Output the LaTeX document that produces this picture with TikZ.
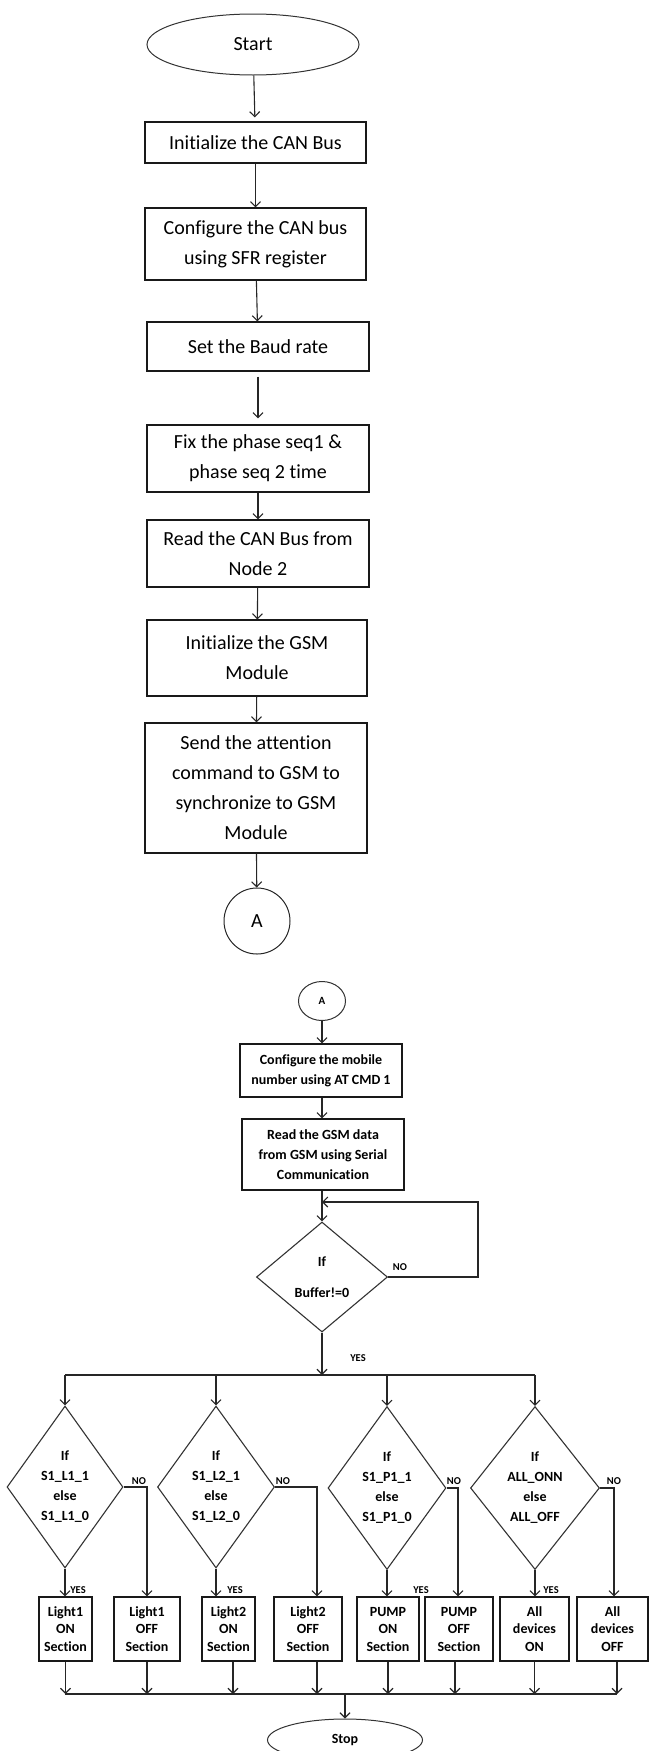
\documentclass[tikz,border=0pt]{standalone}
\usepackage{fontspec}
\setmainfont[RawFeature={-liga;-calt;-dlig;-clig}]{Carlito}
\usetikzlibrary{shapes.geometric,arrows.meta}
\tikzset{
 ln/.style={line width=1.1pt,draw=black!85},
 arr/.style={ln,-{Straight Barb[length=5pt,width=10pt]}},
 bigbox/.style={draw=black!90,line width=1.2pt,rectangle,inner sep=0pt,align=center,font=\fontsize{20}{30}\selectfont},
 midbox/.style={draw=black!90,line width=1.2pt,rectangle,inner sep=0pt,align=center,font=\bfseries\fontsize{14}{20}\selectfont},
 rowbox/.style={draw=black!90,line width=1.2pt,rectangle,inner sep=0pt,align=center,minimum height=64pt,font=\bfseries\fontsize{14}{17.5}\selectfont},
 dia/.style={draw=black!80,line width=1.1pt,diamond,inner sep=0pt},
 dtext/.style={align=center,font=\bfseries\fontsize{14}{20}\selectfont},
 lab/.style={font=\bfseries\fontsize{10.5}{12}\selectfont,inner sep=0pt},
 term/.style={draw=black!80,line width=1pt,ellipse,inner sep=0pt},
}
\begin{document}
\begin{tikzpicture}[x=1pt,y=-1pt]
\useasboundingbox (0,0) rectangle (649,1751);
% ---------- upper chart ----------
\node[term,minimum width=212pt,minimum height=61pt,font=\fontsize{20}{24}\selectfont] (start) at (253,44.5) {Start};
\node[bigbox,minimum width=221pt,minimum height=41pt] (b1) at (255.5,142.5) {Initialize the CAN Bus};
\node[bigbox,minimum width=221pt,minimum height=72pt] (b2) at (255.5,244) {Configure the CAN bus\\using SFR register};
\node[bigbox,minimum width=222pt,minimum height=49pt] (b3) at (258,346.5) {Set the Baud rate};
\node[bigbox,minimum width=222pt,minimum height=67pt] (b4) at (258,458.5) {Fix the phase seq1 \&\\phase seq 2 time};
\node[bigbox,minimum width=222pt,minimum height=67pt] (b5) at (258,553.5) {Read the CAN Bus from\\Node 2};
\node[bigbox,minimum width=220pt,minimum height=76pt] (b6) at (257,658) {Initialize the GSM\\Module};
\node[bigbox,minimum width=222pt,minimum height=130pt] (b7) at (256,788) {Send the attention\\command to GSM to\\synchronize to GSM\\Module};
\node[draw=black!85,line width=1pt,circle,inner sep=0pt,minimum size=66pt,font=\fontsize{20}{24}\selectfont] (cA) at (257,921) {A};

\draw[arr,shorten >=4pt] (start) -- (b1);
\draw[arr] (b1) -- (b2);
\draw[arr] (b2) -- (b3);
\draw[arr,shorten <=5pt,shorten >=6pt] (b3) -- (b4);
\draw[arr] (b4) -- (b5);
\draw[arr] (b5) -- (b6);
\draw[arr] (b6) -- (b7);
\draw[arr] (b7) -- (cA);

% ---------- lower chart ----------
\node[term,minimum width=47pt,minimum height=39pt,font=\bfseries\fontsize{11}{13}\selectfont] (cA2) at (322,1001) {A};
\node[midbox,minimum width=162pt,minimum height=53pt] (m1) at (321,1070.5) {Configure the mobile\\number using AT CMD 1};
\node[midbox,minimum width=162pt,minimum height=71pt] (m2) at (323,1154.5) {Read the GSM data\\from GSM using Serial\\Communication};
\node[dia,minimum width=131pt,minimum height=110pt,label={[dtext]center:{If\\[11pt]Buffer!=0}}] (d0) at (322,1277) {};

\draw[arr] (cA2) -- (cA2 |- m1.north);
\draw[arr] (cA2 |- m1.south) -- (cA2 |- m2.north);
\draw[arr] (d0.north |- m2.south) -- (d0.north);
\coordinate (lp1) at (478,1277);
\coordinate (lp2) at (478,1202);
\draw[arr] (d0.east) -- (lp1) -- (lp2) -- (d0.north |- lp2);
\node[lab] (no0) at (400,1267) {NO};

\coordinate (bus) at (322,1375);
\coordinate (busL) at (65,1375);
\coordinate (busR) at (535,1375);
\draw[arr] (d0.south) -- (bus);
\node[lab] (yes0) at (358,1358) {YES};
\draw[ln] (busL) -- (busR);

\node[dia,minimum width=116pt,minimum height=162pt,label={[dtext]center:{If\\S1\_L1\_1\\else\\S1\_L1\_0}}] (d1) at (65,1487) {};
\node[dia,minimum width=117pt,minimum height=162pt,label={[dtext]center:{If\\S1\_L2\_1\\else\\S1\_L2\_0}}] (d2) at (216,1487) {};
\node[dia,minimum width=118pt,minimum height=163pt,label={[dtext]center:{If\\S1\_P1\_1\\else\\S1\_P1\_0}}] (d3) at (387,1488) {};
\node[dia,minimum width=129pt,minimum height=163pt,label={[dtext]center:{If\\ALL\_ONN\\else\\ALL\_OFF}}] (d4) at (535,1488) {};

\draw[arr] (d1.north |- busL) -- (d1.north);
\draw[arr] (d2.north |- busL) -- (d2.north);
\draw[arr] (d3.north |- busL) -- (d3.north);
\draw[arr] (d4.north |- busL) -- (d4.north);

\node[rowbox,minimum width=53pt] (o1) at (65.5,1629) {Light1\\ON\\Section};
\node[rowbox,minimum width=66pt] (f1) at (147,1629) {Light1\\OFF\\Section};
\node[rowbox,minimum width=53pt] (o2) at (228.5,1629) {Light2\\ON\\Section};
\node[rowbox,minimum width=68pt] (f2) at (308,1629) {Light2\\OFF\\Section};
\node[rowbox,minimum width=62pt] (p1) at (388,1629) {PUMP\\ON\\Section};
\node[rowbox,minimum width=68pt] (p0) at (459,1629) {PUMP\\OFF\\Section};
\node[rowbox,minimum width=69pt] (a1) at (534.5,1629) {All\\devices\\ON};
\node[rowbox,minimum width=71pt] (a0) at (612.5,1629) {All\\devices\\OFF};

% YES branches
\draw[arr] (d1.south) -- (d1.south |- o1.north);
\draw[arr] (d2.south) -- (d2.south |- o2.north);
\draw[arr] (d3.south) -- (d3.south |- p1.north);
\draw[arr] (d4.south) -- (d4.south |- a1.north);
\node[lab] (yes1) at (78,1590) {YES};
\node[lab] (yes2) at (235,1590) {YES};
\node[lab] (yes3) at (421,1590) {YES};
\node[lab] (yes4) at (551,1590) {YES};

% NO branches
\coordinate (n1) at (147,1487);
\coordinate (n2) at (317,1487);
\coordinate (n3) at (458,1488);
\coordinate (n4) at (614,1488);
\draw[arr] (d1.east) -- (n1) -- (n1 |- f1.north);
\draw[arr] (d2.east) -- (n2) -- (n2 |- f2.north);
\draw[arr] (d3.east) -- (n3) -- (n3 |- p0.north);
\draw[arr] (d4.east) -- (n4) -- (n4 |- a0.north);
\node[lab] (no1) at (139,1481) {NO};
\node[lab] (no2) at (283,1481) {NO};
\node[lab] (no3) at (454,1481) {NO};
\node[lab] (no4) at (614,1481) {NO};

% merge to stop
\coordinate (bbL) at (65,1694);
\coordinate (bbR) at (617,1694);
\coordinate (sj) at (345,1694);
\draw[arr] (o1.south) -- (o1.south |- bbL);
\draw[arr] (f1.south) -- (f1.south |- bbL);
\draw[arr] ([xshift=4.5pt]o2.south) -- ([xshift=4.5pt]o2.south |- bbL);
\draw[arr] (n2 |- f2.south) -- (n2 |- bbL);
\draw[arr] (p1.south) -- (p1.south |- bbL);
\draw[arr] ([xshift=-4pt]p0.south) -- ([xshift=-4pt]p0.south |- bbL);
\draw[arr] (a1.south) -- (a1.south |- bbL);
\draw[arr] ([xshift=4.5pt]a0.south) -- ([xshift=4.5pt]a0.south |- bbL);
\draw[ln] (bbL) -- (bbR);
\node[term,minimum width=155pt,minimum height=42pt,font=\bfseries\fontsize{14}{16}\selectfont] (stop) at (345,1740) {Stop};
\draw[arr] (sj) -- (stop.north);
\end{tikzpicture}
\end{document}
